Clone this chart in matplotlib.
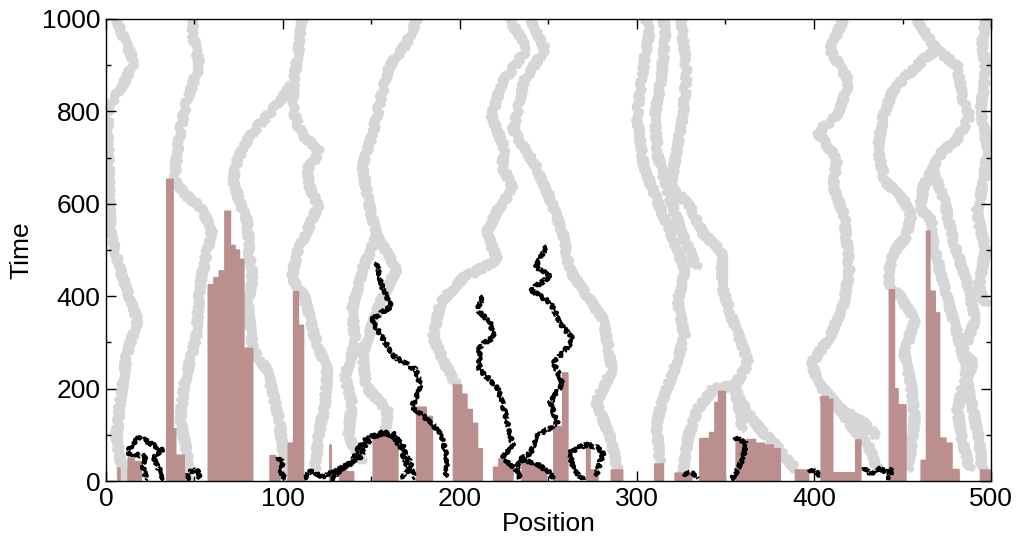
import matplotlib
matplotlib.use("Agg")
import matplotlib.pyplot as plt
from matplotlib.ticker import MultipleLocator

plt.rcParams['font.family'] = ['Liberation Sans', 'DejaVu Sans']

# brown bars: left edge, right edge, height
bar_left = [6.8, 12.5, 16, 34.3, 38, 39.5, 44.3, 57.8, 61, 64, 67.2, 70.4, 73, 75.5, 78,
            92.7, 96, 103, 106, 108.8, 126.5, 132, 136, 151, 155, 160, 175.5, 181,
            196.3, 201, 204, 207, 210, 219, 222, 226, 235, 241, 246, 253, 258,
            271.5, 273.5, 285.5, 310, 321.5, 335.5, 341, 344, 346, 356, 362, 367, 372, 377,
            389.5, 404, 408, 410.6, 423.5, 442.5, 445.5, 447.5,
            460.5, 463.5, 465.5, 468.5, 471, 474.5, 478, 494]
bar_right = [8, 16, 20, 38, 39.5, 44.3, 47, 61, 64, 67.2, 70.4, 73, 75.5, 78, 83,
             96, 98.4, 106, 108.8, 111.7, 127.3, 136, 140, 155, 160, 165, 181, 184.5,
             201, 204, 207, 210, 212.6, 222, 226, 230, 241, 246, 249, 258, 261,
             273.5, 278, 292, 315, 331, 341, 344, 346, 350, 362, 367, 372, 377, 381,
             397, 408, 410.6, 423, 426.5, 445.5, 447.5, 452,
             463.5, 465.5, 468.5, 471, 474.5, 478, 482, 500]
bar_height = [28, 50, 42, 653, 113, 56, 15, 425, 440, 455, 584, 510, 500, 480, 287,
              55, 45, 82, 410, 337, 78, 25, 20, 95, 100, 92, 160, 140,
              208, 188, 155, 125, 70, 30, 48, 35, 42, 38, 25, 118, 234,
              82, 24, 24, 37, 17, 92, 105, 170, 194, 88, 90, 82, 78, 70,
              24, 183, 177, 18, 89, 414, 200, 165,
              45, 541, 411, 364, 93, 82, 25, 24]

# grey walkers, (position, time)
g1 = [(10, 0), (6, 95), (8, 169), (12, 277), (18, 349), (14, 386), (8, 460), (3, 529), (2, 600),
      (2, 675), (1, 750), (1, 805), (10, 860), (16, 907), (10, 960), (6, 1000)]
g2 = [(46, 0), (46, 61), (42, 132), (44, 204), (51, 312), (53, 421), (59, 529), (60, 545), (53, 594),
      (45, 620), (39, 650), (40, 700), (42, 760), (46, 827), (53, 899), (49, 971), (50, 1000)]
g3 = [(102, 0), (98, 132), (91, 241), (83, 284), (80, 386), (83, 436), (81, 494), (80, 560), (76, 600),
      (72, 650), (74, 690), (78, 725), (83, 755), (96, 812), (106, 862), (109, 935), (111, 1000)]
g4 = [(118, 24), (120, 95), (124, 169), (125, 241), (118, 312), (112, 400), (105, 436), (108, 494),
      (114, 544), (120, 595), (115, 638), (114, 675), (121, 711), (110, 755), (106, 800), (106, 862)]
g5a = [(145, 39), (137, 95), (139, 169), (135, 226), (141, 299), (139, 371), (145, 458), (153, 530),
       (148, 610), (145, 681), (151, 755), (155, 824), (160, 896), (170, 948), (176, 1000)]
g5b = [(158, 100), (159, 154), (147, 204), (145, 277), (155, 386), (164, 457), (158, 500), (153, 530)]
g6l = [(198, 208), (191, 256), (185, 312), (189, 386), (202, 440), (217, 470), (221, 479), (215, 538),
       (222, 590), (230, 631), (224, 681), (225, 720), (218, 790), (224, 863), (238, 935), (228, 1000)]
g6r = [(289, 24), (285, 95), (277, 169), (286, 241), (281, 349), (270, 410), (262, 458), (258, 538),
       (251, 610), (243, 681), (240, 698), (230, 760), (232, 790), (236, 863), (248, 935), (240, 1000)]
g7a = [(313, 40), (311, 120), (314, 169), (321, 241), (327, 312), (323, 386), (327, 458), (320, 529),
       (312, 600), (304, 681), (300, 790), (303, 880), (307, 972), (305, 1000)]
g7m = [(334, 460), (325, 540), (318, 620), (312, 700), (310, 790), (314, 880), (316, 960), (315, 1000)]
g7b = [(325, 0), (329, 95), (334, 154), (344, 204), (355, 204)]
g7c = [(359, 110), (359, 132), (355, 204), (363, 256), (354, 349), (348, 421), (348, 494), (337, 538),
       (330, 594), (319, 638), (322, 700), (326, 790), (328, 880), (326, 960), (325, 1000)]
g7e = [(355, 204), (362, 150), (370, 110), (378, 80), (384, 50), (390, 25)]
g8 = [(436, 24), (430, 82), (423, 110), (412, 169), (402, 213), (399, 256), (409, 312), (417, 386),
      (420, 457), (419, 501), (417, 573), (411, 638), (413, 696), (402, 755), (413, 790), (420, 863),
      (409, 935), (417, 1000)]
g8b = [(405, 183), (416, 154), (428, 125), (436, 95)]
g9 = [(495, 24), (493, 95), (487, 204), (484, 277), (491, 349), (487, 421), (478, 529), (474, 603),
      (467, 675), (472, 710), (481, 740), (488, 790), (484, 826), (481, 898), (469, 935), (458, 1000)]
g9c = [(488, 24), (484, 82), (481, 154), (484, 204), (490, 256), (484, 277), (477, 371), (471, 457),
       (466, 541)]
g9d = [(466, 541), (467, 560), (460, 590), (462, 638), (467, 675)]
g9e = [(443, 414), (442, 450), (445, 494), (452, 529), (455, 575), (450, 610), (440, 650), (436, 718),
       (439, 790), (445, 848), (462, 913), (470, 935)]
g9f = [(453, 24), (457, 132), (455, 204), (451, 277), (457, 349), (446, 414)]
g10 = [(497, 380), (493, 420), (497, 500), (492, 580), (496, 650), (498, 720), (494, 800), (497, 880),
       (495, 950), (497, 1000)]

# black walkers, (position, time)
b1 = [(153, 473), (156, 421), (161, 378), (150, 349), (158, 299), (163, 269), (175, 241), (178, 204),
      (173, 161), (184, 126), (190, 95), (193, 39), (192, 9)]
b1a = [(112, 5), (116, 24), (122, 9), (129, 20), (139, 39), (142, 67), (148, 95), (158, 104),
       (163, 95), (167, 67), (171, 24), (167, 5)]
b1b = [(127, 2), (134, 30), (144, 52), (147, 82), (155, 104), (162, 104), (168, 74), (172, 39), (174, 5)]
b2 = [(213, 400), (210, 371), (217, 343), (219, 312), (211, 291), (211, 241), (221, 204), (224, 169),
      (228, 110), (230, 74), (224, 52), (232, 24), (234, 5)]
b3 = [(249, 508), (243, 464), (251, 443), (240, 414), (251, 386), (258, 334), (264, 306), (258, 277),
      (253, 256), (258, 212), (251, 169), (255, 126), (243, 95), (240, 61), (234, 46), (232, 24)]
b3b = [(234, 46), (243, 39), (251, 17), (253, 3)]
b4 = [(270, 2), (264, 24), (262, 61), (268, 74), (272, 78), (277, 74), (281, 61), (279, 39), (277, 9)]
b5 = [(355, 95), (362, 82), (360, 52), (357, 24), (353, 2)]
b6 = [(31, 2), (32, 17), (29, 30), (27, 52), (32, 67), (25, 82), (19, 95), (15, 80), (12, 61),
      (18, 57), (23, 52), (21, 30), (23, 2)]
b7 = [(46, 2), (47, 20), (52, 25), (53, 5)]
b8 = [(97, 52), (100, 40), (99, 20), (101, 5)]
b9 = [(428, 30), (432, 15), (436, 28), (441, 20), (445, 25), (441, 5)]
b10 = [(397, 25), (402, 18), (404, 8)]
b11 = [(326, 15), (331, 18), (335, 8)]

grey_walkers = [g1, g2, g3, g4, g5a, g5b, g6l, g6r, g7a, g7m, g7b, g7c, g7e,
                g8, g8b, g9, g9c, g9d, g9e, g9f, g10]
black_walkers = [b1, b1a, b1b, b2, b3, b3b, b4, b5, b6, b7, b8, b9, b10, b11]

fig = plt.figure(figsize=(10.18, 5.36), dpi=100)
ax = fig.add_axes([0.104, 0.1026, 0.8695, 0.862])

# grey paths, jagged edge comes from the sketch filter
for w in grey_walkers:
    xs = [p[0] for p in w]
    ts = [p[1] for p in w]
    ln, = ax.plot(xs, ts, color='#d6d6d6', lw=5, solid_capstyle='butt', zorder=1)
    ln.set_sketch_params(3, 3, 3)

widths = [r - l for l, r in zip(bar_left, bar_right)]
ax.bar(bar_left, bar_height, width=widths, align='edge', color='#bc8f8f',
       edgecolor='#bc8f8f', linewidth=1.0, snap=False, zorder=2)

for w in black_walkers:
    xs = [p[0] for p in w]
    ts = [p[1] for p in w]
    ln, = ax.plot(xs, ts, color='black', lw=2.8, dashes=(2.5, 0.7), zorder=3)
    ln.set_sketch_params(1.5, 3, 3)

ax.set_xlim(0, 500)
ax.set_ylim(0, 1000)
ax.xaxis.set_major_locator(MultipleLocator(100))
ax.xaxis.set_minor_locator(MultipleLocator(50))
ax.yaxis.set_major_locator(MultipleLocator(200))
ax.yaxis.set_minor_locator(MultipleLocator(100))
ax.tick_params(which='both', direction='in', top=True, right=True, labelsize=19, pad=4)
ax.tick_params(which='major', length=7, width=1)
ax.tick_params(which='minor', length=3.5, width=1)
for s in ax.spines.values():
    s.set_linewidth(1)
    s.set_zorder(4)

ax.set_xlabel('Position', fontsize=19, labelpad=1)
ax.set_ylabel('Time', fontsize=19, labelpad=6)

fig.savefig('out.png', dpi=100)
